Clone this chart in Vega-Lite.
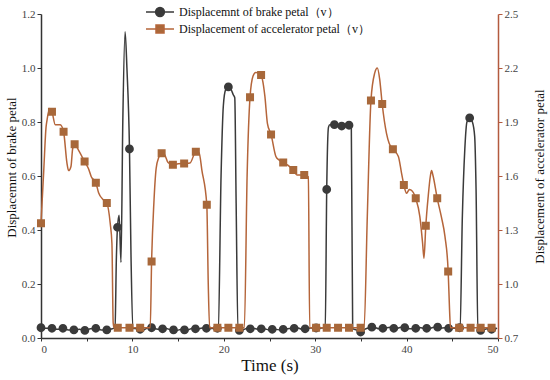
{
  "$schema": "https://vega.github.io/schema/vega-lite/v6.json",
  "width": 457,
  "height": 324,
  "autosize": {"type": "none"},
  "padding": {"left": 41, "top": 14, "right": 52, "bottom": 42},
  "background": "white",
  "config": {
    "view": {"stroke": null},
    "font": "Liberation Serif",
    "axis": {
      "grid": false,
      "labelFont": "Liberation Serif",
      "titleFont": "Liberation Serif",
      "labelFontSize": 11,
      "labelColor": "#444444",
      "titleColor": "#111111",
      "titleFontWeight": "normal",
      "domainWidth": 1.5,
      "tickSize": 4,
      "labelPadding": 2
    }
  },
  "datasets": {
    "brake_line": [
      {"t": 0, "v": 0.038}, {"t": 0.6, "v": 0.036}, {"t": 1.2, "v": 0.036}, {"t": 1.8, "v": 0.032}, {"t": 2.4, "v": 0.036},
      {"t": 3.0, "v": 0.03}, {"t": 3.6, "v": 0.03}, {"t": 4.2, "v": 0.032}, {"t": 4.8, "v": 0.028}, {"t": 5.4, "v": 0.034},
      {"t": 6.0, "v": 0.036}, {"t": 6.6, "v": 0.03}, {"t": 7.2, "v": 0.03}, {"t": 7.8, "v": 0.034}, {"t": 8.1, "v": 0.04},
      {"t": 8.25, "v": 0.3}, {"t": 8.37, "v": 0.41}, {"t": 8.55, "v": 0.455}, {"t": 8.75, "v": 0.28}, {"t": 8.95, "v": 0.8},
      {"t": 9.2, "v": 1.134}, {"t": 9.4, "v": 1.0}, {"t": 9.68, "v": 0.7}, {"t": 9.85, "v": 0.3}, {"t": 10.05, "v": 0.035},
      {"t": 10.6, "v": 0.035}, {"t": 11.2, "v": 0.03}, {"t": 11.8, "v": 0.04}, {"t": 12.4, "v": 0.035}, {"t": 13.0, "v": 0.032},
      {"t": 13.6, "v": 0.036}, {"t": 14.2, "v": 0.03}, {"t": 14.8, "v": 0.028}, {"t": 15.4, "v": 0.032}, {"t": 16.0, "v": 0.03},
      {"t": 16.6, "v": 0.036}, {"t": 17.2, "v": 0.034}, {"t": 17.8, "v": 0.038}, {"t": 18.4, "v": 0.035}, {"t": 19.0, "v": 0.036},
      {"t": 19.4, "v": 0.04}, {"t": 19.7, "v": 0.6}, {"t": 19.95, "v": 0.86}, {"t": 20.2, "v": 0.92}, {"t": 20.5, "v": 0.93},
      {"t": 20.8, "v": 0.92}, {"t": 21.05, "v": 0.9}, {"t": 21.2, "v": 0.89}, {"t": 21.35, "v": 0.5}, {"t": 21.55, "v": 0.03},
      {"t": 22.0, "v": 0.03}, {"t": 22.6, "v": 0.036}, {"t": 23.2, "v": 0.036}, {"t": 23.8, "v": 0.032}, {"t": 24.4, "v": 0.034},
      {"t": 25.0, "v": 0.03}, {"t": 25.6, "v": 0.032}, {"t": 26.2, "v": 0.03}, {"t": 26.8, "v": 0.034}, {"t": 27.4, "v": 0.036},
      {"t": 28.0, "v": 0.038}, {"t": 28.6, "v": 0.032}, {"t": 29.2, "v": 0.036}, {"t": 29.8, "v": 0.038}, {"t": 30.4, "v": 0.036},
      {"t": 31.1, "v": 0.04}, {"t": 31.26, "v": 0.55}, {"t": 31.45, "v": 0.78}, {"t": 31.6, "v": 0.79}, {"t": 32.1, "v": 0.79},
      {"t": 32.5, "v": 0.785}, {"t": 32.9, "v": 0.785}, {"t": 33.3, "v": 0.79}, {"t": 33.7, "v": 0.788}, {"t": 33.95, "v": 0.79},
      {"t": 34.1, "v": 0.035}, {"t": 34.5, "v": 0.03}, {"t": 35.0, "v": 0.022}, {"t": 35.4, "v": 0.032}, {"t": 35.9, "v": 0.038},
      {"t": 36.4, "v": 0.04}, {"t": 37.0, "v": 0.034}, {"t": 37.6, "v": 0.036}, {"t": 38.2, "v": 0.04}, {"t": 38.8, "v": 0.034},
      {"t": 39.4, "v": 0.04}, {"t": 40.0, "v": 0.036}, {"t": 40.6, "v": 0.034}, {"t": 41.2, "v": 0.04}, {"t": 41.8, "v": 0.036},
      {"t": 42.4, "v": 0.034}, {"t": 43.0, "v": 0.04}, {"t": 43.6, "v": 0.036}, {"t": 44.2, "v": 0.038}, {"t": 44.8, "v": 0.036},
      {"t": 45.4, "v": 0.036}, {"t": 45.85, "v": 0.04}, {"t": 46.1, "v": 0.45}, {"t": 46.37, "v": 0.7}, {"t": 46.6, "v": 0.8},
      {"t": 46.9, "v": 0.815}, {"t": 47.2, "v": 0.8}, {"t": 47.45, "v": 0.746}, {"t": 47.6, "v": 0.55}, {"t": 47.8, "v": 0.03},
      {"t": 48.2, "v": 0.028}, {"t": 48.8, "v": 0.034}, {"t": 49.4, "v": 0.032}, {"t": 49.9, "v": 0.036}
    ],
    "brake_marks": [
      {"t": 0, "v": 0.038}, {"t": 1.2, "v": 0.036}, {"t": 2.4, "v": 0.036}, {"t": 3.6, "v": 0.03}, {"t": 4.8, "v": 0.028},
      {"t": 6.0, "v": 0.036}, {"t": 7.2, "v": 0.03}, {"t": 8.37, "v": 0.41}, {"t": 9.68, "v": 0.7}, {"t": 10.85, "v": 0.032},
      {"t": 12.1, "v": 0.038}, {"t": 13.3, "v": 0.034}, {"t": 14.5, "v": 0.03}, {"t": 15.7, "v": 0.03}, {"t": 16.9, "v": 0.034},
      {"t": 18.1, "v": 0.036}, {"t": 19.3, "v": 0.036}, {"t": 20.5, "v": 0.93}, {"t": 21.7, "v": 0.028}, {"t": 22.9, "v": 0.034},
      {"t": 24.1, "v": 0.034}, {"t": 25.3, "v": 0.032}, {"t": 26.5, "v": 0.032}, {"t": 27.7, "v": 0.036}, {"t": 28.9, "v": 0.034},
      {"t": 30.1, "v": 0.037}, {"t": 31.26, "v": 0.55}, {"t": 32.1, "v": 0.79}, {"t": 32.9, "v": 0.785}, {"t": 33.7, "v": 0.788},
      {"t": 34.97, "v": 0.022}, {"t": 36.2, "v": 0.04}, {"t": 37.4, "v": 0.036}, {"t": 38.6, "v": 0.036}, {"t": 39.8, "v": 0.038},
      {"t": 41.0, "v": 0.036}, {"t": 42.2, "v": 0.036}, {"t": 43.4, "v": 0.04}, {"t": 44.6, "v": 0.036}, {"t": 45.8, "v": 0.038},
      {"t": 46.9, "v": 0.815}, {"t": 48.1, "v": 0.028}, {"t": 49.3, "v": 0.032}
    ],
    "accel_line": [
      {"t": 0, "v": 1.338}, {"t": 0.3, "v": 1.63}, {"t": 0.55, "v": 1.87}, {"t": 0.66, "v": 1.91}, {"t": 0.94, "v": 1.975},
      {"t": 1.2, "v": 1.957}, {"t": 1.56, "v": 1.885}, {"t": 2.1, "v": 1.885}, {"t": 2.47, "v": 1.846}, {"t": 2.84, "v": 1.672},
      {"t": 3.02, "v": 1.63}, {"t": 3.28, "v": 1.653}, {"t": 3.46, "v": 1.75}, {"t": 3.68, "v": 1.776}, {"t": 4.1, "v": 1.744},
      {"t": 4.77, "v": 1.68}, {"t": 5.2, "v": 1.64}, {"t": 5.5, "v": 1.596}, {"t": 6.0, "v": 1.563}, {"t": 6.3, "v": 1.507},
      {"t": 6.84, "v": 1.467}, {"t": 7.2, "v": 1.45}, {"t": 7.57, "v": 1.338}, {"t": 7.76, "v": 1.225}, {"t": 7.9, "v": 0.783},
      {"t": 8.0, "v": 0.757}, {"t": 8.4, "v": 0.757}, {"t": 9.68, "v": 0.757}, {"t": 10.85, "v": 0.757}, {"t": 11.95, "v": 0.757},
      {"t": 12.1, "v": 1.125}, {"t": 12.35, "v": 1.45}, {"t": 12.6, "v": 1.642}, {"t": 12.9, "v": 1.705}, {"t": 13.2, "v": 1.726},
      {"t": 13.5, "v": 1.72}, {"t": 13.9, "v": 1.675}, {"t": 14.43, "v": 1.662}, {"t": 15.0, "v": 1.668}, {"t": 15.66, "v": 1.67},
      {"t": 16.3, "v": 1.672}, {"t": 16.94, "v": 1.735}, {"t": 17.3, "v": 1.729}, {"t": 17.6, "v": 1.633}, {"t": 18.14, "v": 1.44},
      {"t": 18.3, "v": 1.0}, {"t": 18.45, "v": 0.757}, {"t": 19.3, "v": 0.757}, {"t": 20.5, "v": 0.757}, {"t": 21.7, "v": 0.757},
      {"t": 22.25, "v": 0.757}, {"t": 22.55, "v": 1.6}, {"t": 22.87, "v": 2.037}, {"t": 23.2, "v": 2.155}, {"t": 23.5, "v": 2.175},
      {"t": 23.8, "v": 2.173}, {"t": 24.08, "v": 2.161}, {"t": 24.5, "v": 2.041}, {"t": 24.77, "v": 1.893}, {"t": 25.17, "v": 1.831},
      {"t": 25.7, "v": 1.708}, {"t": 26.0, "v": 1.69}, {"t": 26.5, "v": 1.675}, {"t": 27.0, "v": 1.66}, {"t": 27.6, "v": 1.633},
      {"t": 28.0, "v": 1.606}, {"t": 28.8, "v": 1.606}, {"t": 29.25, "v": 1.596}, {"t": 29.4, "v": 0.757}, {"t": 30.1, "v": 0.757},
      {"t": 31.26, "v": 0.757}, {"t": 32.5, "v": 0.757}, {"t": 33.7, "v": 0.757}, {"t": 34.97, "v": 0.757}, {"t": 35.35, "v": 0.757},
      {"t": 35.7, "v": 1.375}, {"t": 36.1, "v": 2.02}, {"t": 36.5, "v": 2.17}, {"t": 36.8, "v": 2.2}, {"t": 37.05, "v": 2.14},
      {"t": 37.33, "v": 2.0}, {"t": 37.8, "v": 1.837}, {"t": 38.1, "v": 1.78}, {"t": 38.5, "v": 1.749}, {"t": 39.1, "v": 1.708},
      {"t": 39.45, "v": 1.615}, {"t": 39.7, "v": 1.55}, {"t": 40.0, "v": 1.504}, {"t": 40.3, "v": 1.525}, {"t": 40.5, "v": 1.522},
      {"t": 41.0, "v": 1.476}, {"t": 41.45, "v": 1.374}, {"t": 41.75, "v": 1.227}, {"t": 41.9, "v": 1.143}, {"t": 42.1, "v": 1.323},
      {"t": 42.36, "v": 1.485}, {"t": 42.6, "v": 1.6}, {"t": 42.73, "v": 1.63}, {"t": 42.9, "v": 1.6}, {"t": 43.35, "v": 1.476},
      {"t": 43.8, "v": 1.374}, {"t": 44.2, "v": 1.263}, {"t": 44.55, "v": 1.069}, {"t": 44.7, "v": 0.856}, {"t": 44.8, "v": 0.757},
      {"t": 45.75, "v": 0.757}, {"t": 47.0, "v": 0.757}, {"t": 48.1, "v": 0.757}, {"t": 49.3, "v": 0.757}
    ],
    "accel_marks": [
      {"t": 0, "v": 1.338}, {"t": 1.2, "v": 1.957}, {"t": 2.47, "v": 1.846}, {"t": 3.68, "v": 1.776}, {"t": 4.77, "v": 1.68},
      {"t": 6.0, "v": 1.563}, {"t": 7.2, "v": 1.45}, {"t": 8.4, "v": 0.757}, {"t": 9.68, "v": 0.757}, {"t": 10.85, "v": 0.757},
      {"t": 12.1, "v": 1.125}, {"t": 13.2, "v": 1.726}, {"t": 14.43, "v": 1.662}, {"t": 15.66, "v": 1.67}, {"t": 16.94, "v": 1.735},
      {"t": 18.14, "v": 1.44}, {"t": 19.3, "v": 0.757}, {"t": 20.5, "v": 0.757}, {"t": 21.7, "v": 0.757}, {"t": 22.87, "v": 2.037},
      {"t": 24.08, "v": 2.161}, {"t": 25.17, "v": 1.831}, {"t": 26.5, "v": 1.675}, {"t": 27.6, "v": 1.633}, {"t": 28.8, "v": 1.606},
      {"t": 30.1, "v": 0.757}, {"t": 31.26, "v": 0.757}, {"t": 32.5, "v": 0.757}, {"t": 33.7, "v": 0.757}, {"t": 34.97, "v": 0.757},
      {"t": 36.1, "v": 2.02}, {"t": 37.33, "v": 2.0}, {"t": 38.5, "v": 1.749}, {"t": 39.7, "v": 1.55}, {"t": 41.0, "v": 1.476},
      {"t": 42.1, "v": 1.323}, {"t": 43.35, "v": 1.476}, {"t": 44.55, "v": 1.069}, {"t": 45.75, "v": 0.757}, {"t": 47.0, "v": 0.757},
      {"t": 48.1, "v": 0.757}, {"t": 49.3, "v": 0.757}
    ]
  },
  "encoding": {
    "x": {
      "field": "t",
      "type": "quantitative",
      "scale": {"domain": [0, 50], "nice": false},
      "axis": {
        "title": "Time (s)",
        "titleFontSize": 17,
        "titlePadding": 3,
        "values": [0, 5, 10, 15, 20, 25, 30, 35, 40, 45, 50],
        "labelExpr": "datum.value % 10 === 0 ? datum.label : ''",
        "domainColor": "#333333",
        "tickColor": "#333333",
        "tickSize": 3
      }
    }
  },
  "layer": [
    {
      "encoding": {
        "y": {
          "field": "v",
          "type": "quantitative",
          "scale": {"domain": [0, 1.2], "nice": false, "zero": false},
          "axis": {
            "orient": "left",
            "title": "Displacemnt of  brake petal",
            "titleFontSize": 13,
            "titlePadding": 3,
            "titleY": 153,
            "values": [0, 0.2, 0.4, 0.6, 0.8, 1.0, 1.2],
            "format": ".1f",
            "domainColor": "#333333",
            "tickColor": "#333333"
          }
        }
      },
      "layer": [
        {
          "data": {"name": "brake_line"},
          "mark": {"type": "line", "strokeWidth": 1.5, "interpolate": "monotone"},
          "encoding": {
            "stroke": {
              "datum": "Displacemnt of  brake petal（v）",
              "type": "nominal",
              "scale": {
                "domain": ["Displacemnt of  brake petal（v）", "Displacement of accelerator petal（v）"],
                "range": ["#3a3a3a", "#b5653a"]
              },
              "legend": {
                "title": null,
                "orient": "none",
                "legendX": 103,
                "legendY": -8,
                "padding": 0,
                "labelFont": "Liberation Serif",
                "labelFontSize": 12,
                "labelColor": "#111111",
                "labelLimit": 400,
                "symbolSize": 64,
                "symbolStrokeWidth": 1.5,
                "symbolOffset": 10,
                "labelOffset": 13,
                "rowPadding": 2
              }
            }
          }
        },
        {
          "data": {"name": "brake_marks"},
          "mark": {"type": "point", "filled": true, "size": 64, "opacity": 1},
          "encoding": {
            "fill": {
              "datum": "Displacemnt of  brake petal（v）",
              "type": "nominal",
              "scale": {
                "domain": ["Displacemnt of  brake petal（v）", "Displacement of accelerator petal（v）"],
                "range": ["#3a3a3a", "#a8683a"]
              }
            },
            "shape": {
              "datum": "Displacemnt of  brake petal（v）",
              "type": "nominal",
              "scale": {
                "domain": ["Displacemnt of  brake petal（v）", "Displacement of accelerator petal（v）"],
                "range": ["M-3.5,0H3.5M-1.1,0A1.1,1.1 0 1,1 1.1,0A1.1,1.1 0 1,1 -1.1,0Z", "M-3.5,0H3.5M-1,-1H1V1H-1Z"]
              }
            }
          }
        }
      ]
    },
    {
      "encoding": {
        "y": {
          "field": "v",
          "type": "quantitative",
          "scale": {"domain": [0.7, 2.5], "nice": false, "zero": false},
          "axis": {
            "orient": "right",
            "title": "Displacement of accelerator petal",
            "titleFontSize": 13,
            "titleAngle": 270,
            "titlePadding": 29,
            "values": [0.7, 1.0, 1.3, 1.6, 1.9, 2.2, 2.5],
            "format": ".1f",
            "domainColor": "#b35a3e",
            "tickColor": "#b35a3e"
          }
        }
      },
      "layer": [
        {
          "data": {"name": "accel_line"},
          "mark": {"type": "line", "strokeWidth": 1.5, "interpolate": "monotone"},
          "encoding": {
            "stroke": {"datum": "Displacement of accelerator petal（v）", "type": "nominal"}
          }
        },
        {
          "data": {"name": "accel_marks"},
          "mark": {"type": "point", "filled": true, "size": 64, "opacity": 1},
          "encoding": {
            "fill": {"datum": "Displacement of accelerator petal（v）", "type": "nominal"},
            "shape": {"datum": "Displacement of accelerator petal（v）", "type": "nominal"}
          }
        }
      ]
    }
  ],
  "resolve": {"scale": {"y": "independent"}}
}
